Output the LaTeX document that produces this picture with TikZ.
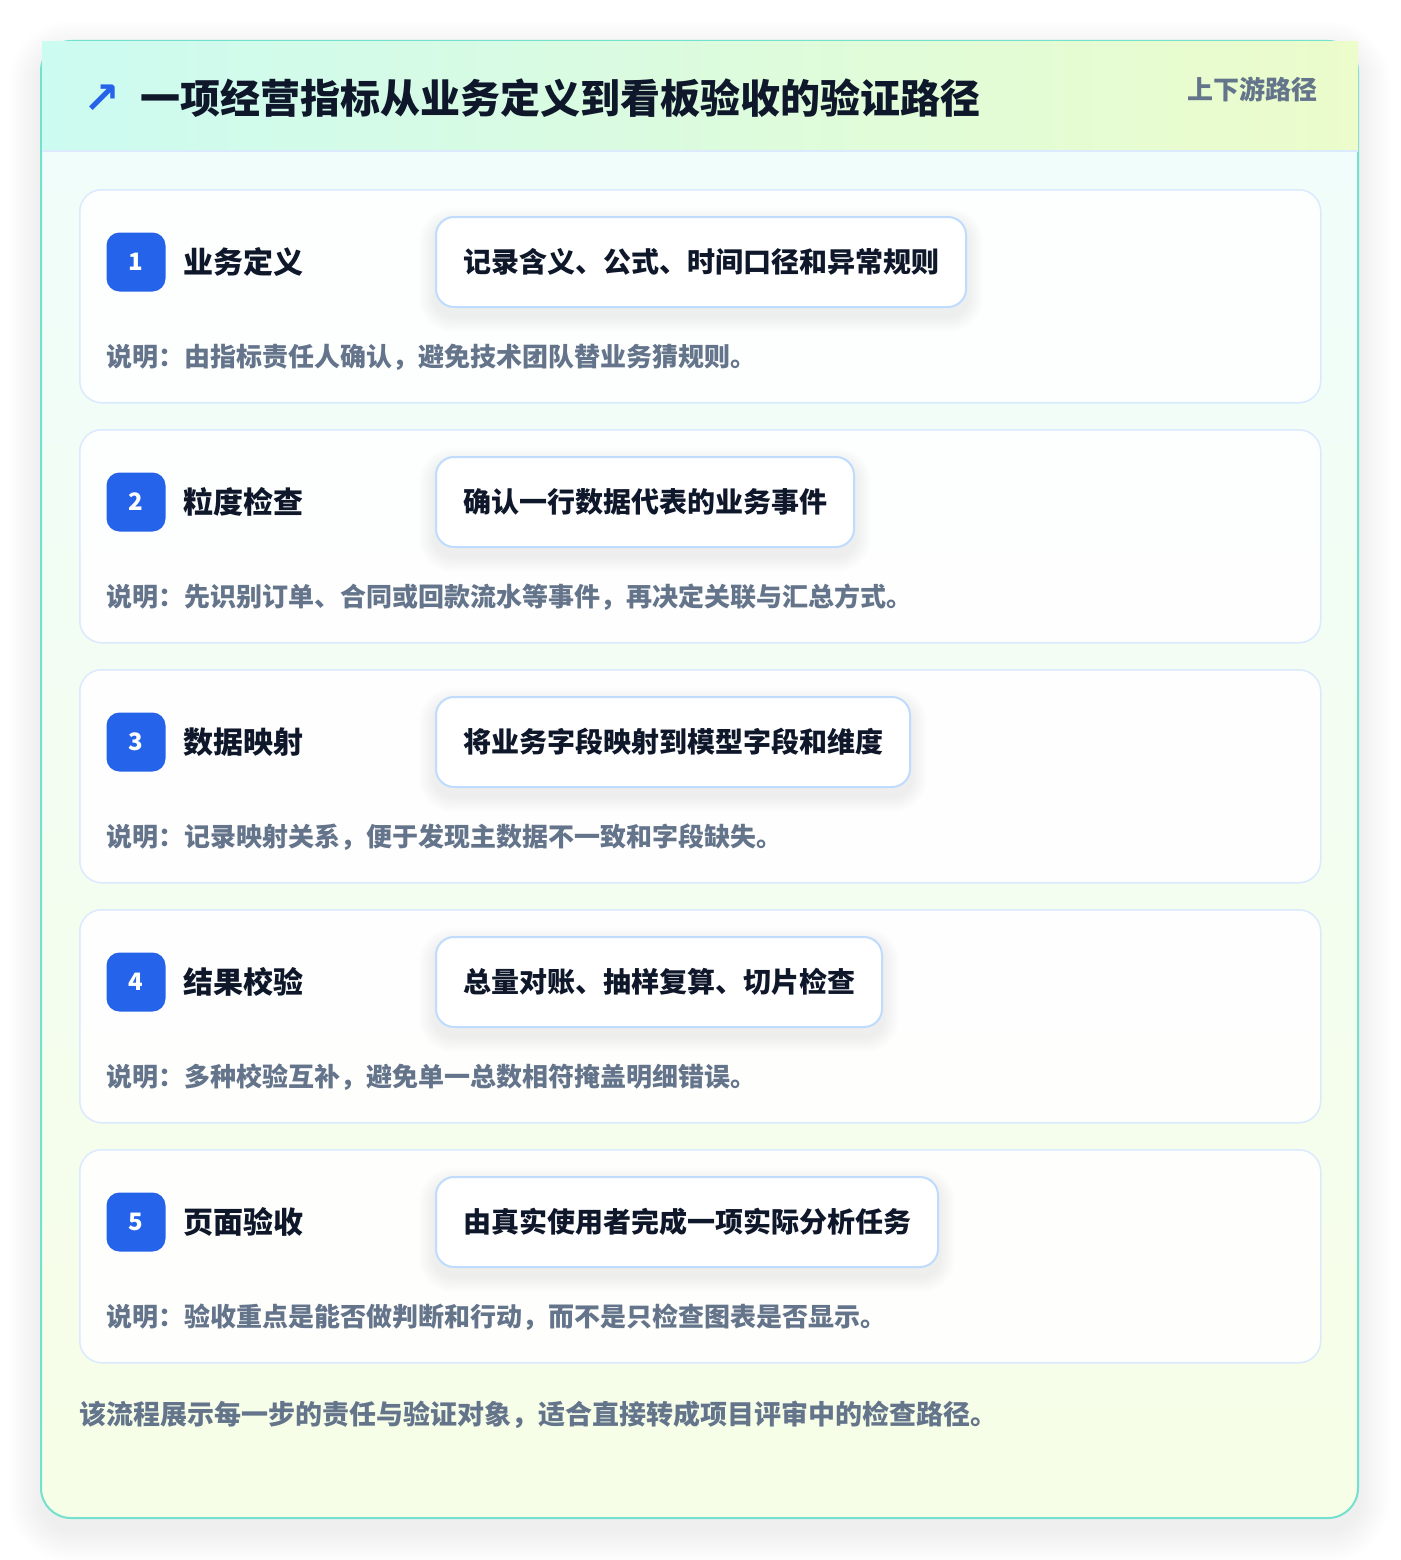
\documentclass[tikz,border=0pt]{standalone}
\usepackage{fontspec}
\setmainfont{Noto Sans CJK SC}
\newfontfamily\symfont{DejaVu Sans}
\usetikzlibrary{positioning,calc}

\definecolor{cardline}{HTML}{74E0CE}
\definecolor{headL}{HTML}{CCFBF1}
\definecolor{headR}{HTML}{ECFCCB}
\definecolor{bodyT}{HTML}{F0FDFA}
\definecolor{bodyB}{HTML}{F7FEE7}
\definecolor{stepline}{HTML}{DBEAFE}
\definecolor{pillline}{HTML}{BFDBFE}
\definecolor{badgeblue}{HTML}{2563EB}
\definecolor{ink}{HTML}{0F172A}
\definecolor{muted}{HTML}{64748B}

\pgfdeclarelayer{back}
\pgfdeclarelayer{mid}
\pgfsetlayers{back,mid,main}

\begin{document}
\begin{tikzpicture}[x=1pt,y=-1pt]
		\tikzstyle{stepcard}=[draw=stepline, line width=1.5pt, fill=white, fill opacity=0.9, draw opacity=1, rounded corners=22pt, minimum width=1241pt, minimum height=213pt, anchor=north west]
		\tikzstyle{badge}=[fill=badgeblue, rounded corners=13pt, minimum size=59pt, inner sep=0pt, text=white, font=\bfseries\fontsize{24}{28}\selectfont]
		\tikzstyle{steptitle}=[inner sep=0pt, text=ink, font=\bfseries\fontsize{30}{36}\selectfont]
		\tikzstyle{pill}=[draw=pillline, line width=2pt, fill=white, rounded corners=18pt, minimum height=90pt, inner xsep=27pt, anchor=west, text=ink, font=\bfseries\fontsize{28}{34}\selectfont]
		\tikzstyle{stepnote}=[inner sep=0pt, anchor=west, text=muted, font=\bfseries\fontsize{26}{32}\selectfont]
		\tikzstyle{haze}=[fill=black, draw=none]
		
		\useasboundingbox (0,0) rectangle (1400,1560);
		
		\begin{pgfonlayer}{back}
		\fill[white] (0,0) rectangle (1400,1560);
		% soft shadow of the outer card
		\foreach \r in {2,4,...,32} {
			\pgfmathsetmacro\rr{30+\r}
			\fill[haze, opacity=0.005, rounded corners=\rr pt] (41-\r,41-\r+12) rectangle (1358+\r,1518+\r+12);
		}
		% outer card
		\fill[bodyB, rounded corners=30pt] (41,41) rectangle (1358,1518);
		\begin{scope}
			\clip[rounded corners=30pt] (41,41) rectangle (1358,1518);
			\shade[top color=bodyT, bottom color=bodyB] (41,151) rectangle (1358,1518);
		\end{scope}
		\draw[cardline, line width=2pt, rounded corners=30pt] (41,41) rectangle (1358,1518);
		
		% header
		\shade[left color=headL, right color=headR] (42,42) rectangle (1358,151);
		\draw[stepline, line width=2pt] (42,151) -- (1358,151);
		\end{pgfonlayer}
		
		\node (icon) at (102,99) [inner sep=0pt, text=badgeblue, font=\symfont\bfseries\fontsize{44}{44}\selectfont] {↗};
		\node (title) at (140,98) [anchor=west, inner sep=0pt, text=ink, font=\bfseries\fontsize{40}{48}\selectfont] {一项经营指标从业务定义到看板验收的验证路径};
		\node (tag) at (1318,89) [anchor=east, inner sep=0pt, text=muted, font=\bfseries\fontsize{26}{32}\selectfont] {上下游路径};
		
		% steps
		\foreach \i/\name/\task/\note in {
			1/业务定义/记录含义、公式、时间口径和异常规则/说明：由指标责任人确认，避免技术团队替业务猜规则。,
			2/粒度检查/确认一行数据代表的业务事件/说明：先识别订单、合同或回款流水等事件，再决定关联与汇总方式。,
			3/数据映射/将业务字段映射到模型字段和维度/说明：记录映射关系，便于发现主数据不一致和字段缺失。,
			4/结果校验/总量对账、抽样复算、切片检查/说明：多种校验互补，避免单一总数相符掩盖明细错误。,
			5/页面验收/由真实使用者完成一项实际分析任务/说明：验收重点是能否做判断和行动，而不是只检查图表是否显示。}
		{
			\pgfmathsetmacro\cy{189+240*(\i-1)}
			\begin{pgfonlayer}{back}
				\node (card\i) at (79,\cy) [stepcard] {};
			\end{pgfonlayer}
			\node (num\i) at (136,{\cy+73}) [badge] {\i};
			\node (name\i) [steptitle, right=18pt of num\i] {\name};
			\node (task\i) at (435,{\cy+73}) [pill] {\task};
			\node (note\i) at (106,{\cy+168}) [stepnote] {\note};
			\begin{pgfonlayer}{mid}
				\foreach \r in {2,4,...,16} {
					\pgfmathsetmacro\rr{18+\r}
					\fill[haze, opacity=0.006, rounded corners=\rr pt] ($(task\i.south west)+(-\r,\r+8)$) rectangle ($(task\i.north east)+(\r,-\r+8)$);
				}
			\end{pgfonlayer}
		}
		
		\node (foot) at (79,1415) [anchor=west, inner sep=0pt, text=muted, font=\bfseries\fontsize{27}{32}\selectfont] {该流程展示每一步的责任与验证对象，适合直接转成项目评审中的检查路径。};
		
\end{tikzpicture}
\end{document}
